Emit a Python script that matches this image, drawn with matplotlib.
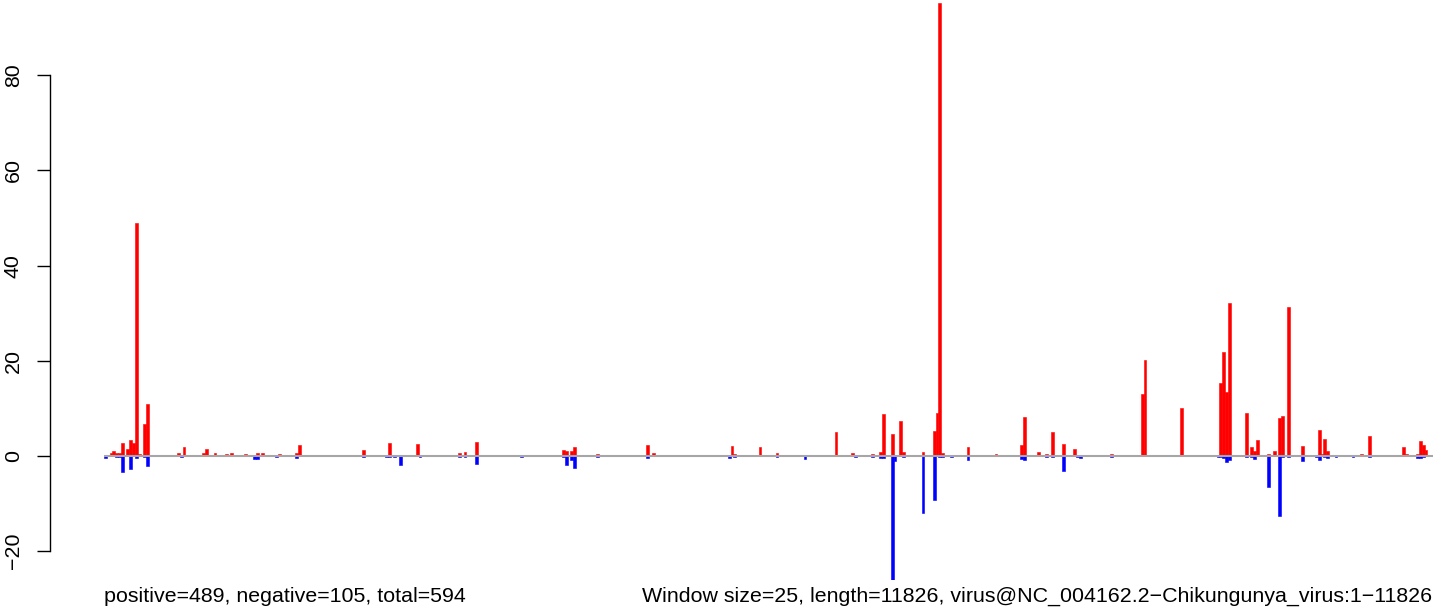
import matplotlib
matplotlib.use("Agg")
import matplotlib.pyplot as plt

plt.rcParams['font.family'] = ['Liberation Sans', 'DejaVu Sans']

# window count: length 11826 / window size 25
n_windows = 473

# positive counts per window (window index, value)
pos_idx = [0, 1, 2, 3, 4, 5, 6, 8, 9, 10, 11, 12, 14, 15,
           26, 28, 29, 35, 36, 39, 43, 45, 49, 50, 54, 56, 62, 65, 68, 69, 76, 77,
           85, 90, 92, 96, 101, 102, 103, 104, 106, 107, 111, 119, 126, 128, 132, 138,
           152, 154, 155, 162, 163, 164, 166, 167, 175, 179, 193, 195, 197, 202, 211,
           223, 224, 231, 233, 239, 243, 250, 260, 266, 273, 276, 277, 280, 283, 284,
           291, 294, 295, 296, 297, 298, 306, 307, 313, 314, 317, 324, 325, 326, 327,
           331, 332, 335, 337, 341, 345, 346, 347, 358, 369, 370, 377, 383,
           397, 398, 399, 400, 406, 408, 409, 410, 414, 416, 418, 419, 421, 426, 428,
           430, 431, 432, 433, 434, 435, 444, 447, 450, 454, 460, 462, 463, 464,
           467, 468, 469, 470]
pos_val = [0.2, 0.2, 0.6, 1.0, 0.6, 0.6, 2.7, 1.5, 3.4, 2.7, 49.0, 0.4, 6.7, 10.9,
           0.6, 1.9, 0.2, 0.6, 1.5, 0.6, 0.4, 0.6, 0.2, 0.4, 0.6, 0.6, 0.4, 0.2, 0.6, 2.3, 0.2, 0.2,
           0.2, 0.2, 1.3, 0.2, 2.7, 0.2, 0.2, 0.2, 0.2, 0.2, 2.5, 0.2, 0.6, 0.8, 2.9, 0.2,
           0.2, 0.2, 0.2, 0.2, 1.3, 1.0, 1.0, 1.9, 0.4, 0.2, 2.3, 0.6, 0.2, 0.2, 0.2,
           2.1, 0.4, 0.2, 1.9, 0.6, 0.2, 0.2, 5.0, 0.6, 0.4, 0.8, 8.8, 4.6, 7.3, 0.8,
           0.8, 0.2, 5.2, 9.0, 95.2, 0.6, 0.2, 1.9, 0.2, 0.2, 0.4, 0.2, 0.2, 2.3, 8.2,
           0.2, 0.8, 0.4, 5.0, 2.5, 1.5, 0.2, 0.2, 0.4, 13.0, 20.2, 0.2, 10.1,
           15.3, 21.8, 13.4, 32.1, 9.0, 1.9, 1.0, 3.4, 0.4, 1.0, 8.0, 8.5, 31.3, 2.1, 0.2,
           0.2, 0.2, 5.5, 0.4, 3.6, 1.0, 0.2, 0.4, 4.2, 0.2, 0.2, 1.9, 0.4, 0.2,
           0.4, 3.1, 2.3, 1.3]

# negative counts per window (window index, value)
neg_idx = [0, 4, 5, 6, 9, 11, 14, 15, 27, 53, 54, 61, 68, 92, 100, 101, 103, 105, 112,
           126, 128, 132, 148, 163, 164, 166, 167, 175, 193, 222, 224, 239, 249, 267,
           273, 276, 277, 280, 281, 284, 291, 295, 297, 298, 301, 307, 326, 327, 335,
           337, 341, 346, 347, 358, 396, 397, 398, 399, 400, 406, 408, 409, 414, 418,
           419, 421, 426, 431, 432, 434, 435, 438, 444, 450, 467, 468, 469]
neg_val = [-0.4, -0.2, -0.2, -3.3, -2.7, -0.4, -0.2, -2.2, -0.3, -0.6, -0.6, -0.2, -0.4, -0.2, -0.2, -0.2, -0.2, -1.9, -0.3,
           -0.2, -0.2, -1.7, -0.2, -0.2, -1.9, -0.8, -2.5, -0.2, -0.4, -0.4, -0.2, -0.3, -0.6, -0.2,
           -0.2, -0.4, -0.4, -28.0, -1.0, -0.2, -12.0, -9.2, -0.3, -0.3, -0.2, -0.8, -0.6, -0.8, -0.2,
           -0.2, -3.2, -0.3, -0.4, -0.2, -0.2, -0.2, -0.4, -1.3, -0.8, -0.2, -0.2, -0.6, -6.5, -12.6,
           -0.2, -0.2, -1.0, -0.2, -0.8, -0.2, -0.4, -0.2, -0.2, -0.2, -0.4, -0.4, -0.2]

y_ticks = [-20, 0, 20, 40, 60, 80]
left_text = "positive=489, negative=105, total=594"
right_text = "Window size=25, length=11826, virus@NC_004162.2\u2212Chikungunya_virus:1\u221211826"

fig = plt.figure(figsize=(14.52, 6.13), dpi=100)
ax = fig.add_axes([104 / 1452, 33 / 613, (1433 - 104) / 1452, 580 / 613])

ax.bar(pos_idx, pos_val, width=1.0, align='edge', color='#FF0000',
       edgecolor='#FF0000', linewidth=0.4)
ax.bar(neg_idx, neg_val, width=1.0, align='edge', color='#0000FF',
       edgecolor='#0000FF', linewidth=0.4)
ax.plot([0, n_windows], [0, 0], color='#A6A6A6', linewidth=1.5, solid_capstyle='butt')

ax.set_xlim(0, n_windows)
ax.set_ylim(-26.05, 95.8)

for side in ['top', 'right', 'bottom']:
    ax.spines[side].set_visible(False)
ax.spines['left'].set_position(('outward', 54 * 0.72))
ax.spines['left'].set_bounds(-20, 80)
ax.spines['left'].set_linewidth(1.0)
ax.set_xticks([])
ax.set_yticks(y_ticks)
ax.tick_params(axis='y', length=9.5, width=1.0, pad=10, labelsize=15.4, labelrotation=90)
for lbl in ax.get_yticklabels():
    lbl.set_va('center')

fig.text(104 / 1452, 1 - 602 / 613, left_text, ha='left', va='baseline', fontsize=15.4)
fig.text(1432 / 1452, 1 - 602 / 613, right_text, ha='right', va='baseline', fontsize=15.4)

fig.savefig('out.png', dpi=100)
